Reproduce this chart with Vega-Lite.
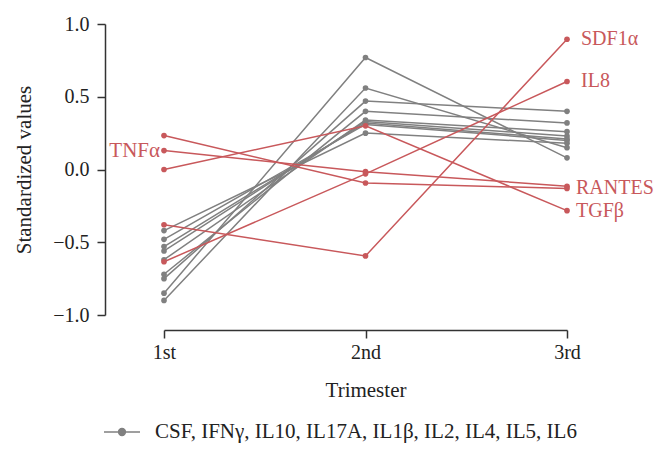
{
  "$schema": "https://vega.github.io/schema/vega-lite/v6.json",
  "width": 403,
  "height": 291,
  "autosize": {"type": "none"},
  "padding": {"left": 164, "top": 24, "right": 104, "bottom": 139},
  "config": {
    "view": {"stroke": null},
    "font": "Liberation Serif",
    "axis": {
      "domainColor": "#333333",
      "domainWidth": 1.5,
      "tickColor": "#333333",
      "tickWidth": 1.5,
      "tickSize": 8,
      "grid": false,
      "labelFont": "Liberation Serif",
      "labelFontSize": 20,
      "labelColor": "#222222",
      "titleFont": "Liberation Serif",
      "titleFontSize": 21,
      "titleFontWeight": "normal",
      "titleColor": "#222222"
    }
  },
  "datasets": {
    "series": [
      {"cytokine": "CSF", "group": "CSF, IFNγ, IL10, IL17A, IL1β, IL2, IL4, IL5, IL6", "trimester": "1st", "value": -0.85},
      {"cytokine": "CSF", "group": "CSF, IFNγ, IL10, IL17A, IL1β, IL2, IL4, IL5, IL6", "trimester": "2nd", "value": 0.77},
      {"cytokine": "CSF", "group": "CSF, IFNγ, IL10, IL17A, IL1β, IL2, IL4, IL5, IL6", "trimester": "3rd", "value": 0.08},
      {"cytokine": "IFNγ", "group": "CSF, IFNγ, IL10, IL17A, IL1β, IL2, IL4, IL5, IL6", "trimester": "1st", "value": -0.9},
      {"cytokine": "IFNγ", "group": "CSF, IFNγ, IL10, IL17A, IL1β, IL2, IL4, IL5, IL6", "trimester": "2nd", "value": 0.56},
      {"cytokine": "IFNγ", "group": "CSF, IFNγ, IL10, IL17A, IL1β, IL2, IL4, IL5, IL6", "trimester": "3rd", "value": 0.15},
      {"cytokine": "IL10", "group": "CSF, IFNγ, IL10, IL17A, IL1β, IL2, IL4, IL5, IL6", "trimester": "1st", "value": -0.75},
      {"cytokine": "IL10", "group": "CSF, IFNγ, IL10, IL17A, IL1β, IL2, IL4, IL5, IL6", "trimester": "2nd", "value": 0.47},
      {"cytokine": "IL10", "group": "CSF, IFNγ, IL10, IL17A, IL1β, IL2, IL4, IL5, IL6", "trimester": "3rd", "value": 0.4},
      {"cytokine": "IL17A", "group": "CSF, IFNγ, IL10, IL17A, IL1β, IL2, IL4, IL5, IL6", "trimester": "1st", "value": -0.72},
      {"cytokine": "IL17A", "group": "CSF, IFNγ, IL10, IL17A, IL1β, IL2, IL4, IL5, IL6", "trimester": "2nd", "value": 0.4},
      {"cytokine": "IL17A", "group": "CSF, IFNγ, IL10, IL17A, IL1β, IL2, IL4, IL5, IL6", "trimester": "3rd", "value": 0.32},
      {"cytokine": "IL1β", "group": "CSF, IFNγ, IL10, IL17A, IL1β, IL2, IL4, IL5, IL6", "trimester": "1st", "value": -0.62},
      {"cytokine": "IL1β", "group": "CSF, IFNγ, IL10, IL17A, IL1β, IL2, IL4, IL5, IL6", "trimester": "2nd", "value": 0.34},
      {"cytokine": "IL1β", "group": "CSF, IFNγ, IL10, IL17A, IL1β, IL2, IL4, IL5, IL6", "trimester": "3rd", "value": 0.26},
      {"cytokine": "IL2", "group": "CSF, IFNγ, IL10, IL17A, IL1β, IL2, IL4, IL5, IL6", "trimester": "1st", "value": -0.56},
      {"cytokine": "IL2", "group": "CSF, IFNγ, IL10, IL17A, IL1β, IL2, IL4, IL5, IL6", "trimester": "2nd", "value": 0.33},
      {"cytokine": "IL2", "group": "CSF, IFNγ, IL10, IL17A, IL1β, IL2, IL4, IL5, IL6", "trimester": "3rd", "value": 0.23},
      {"cytokine": "IL4", "group": "CSF, IFNγ, IL10, IL17A, IL1β, IL2, IL4, IL5, IL6", "trimester": "1st", "value": -0.53},
      {"cytokine": "IL4", "group": "CSF, IFNγ, IL10, IL17A, IL1β, IL2, IL4, IL5, IL6", "trimester": "2nd", "value": 0.32},
      {"cytokine": "IL4", "group": "CSF, IFNγ, IL10, IL17A, IL1β, IL2, IL4, IL5, IL6", "trimester": "3rd", "value": 0.21},
      {"cytokine": "IL5", "group": "CSF, IFNγ, IL10, IL17A, IL1β, IL2, IL4, IL5, IL6", "trimester": "1st", "value": -0.48},
      {"cytokine": "IL5", "group": "CSF, IFNγ, IL10, IL17A, IL1β, IL2, IL4, IL5, IL6", "trimester": "2nd", "value": 0.31},
      {"cytokine": "IL5", "group": "CSF, IFNγ, IL10, IL17A, IL1β, IL2, IL4, IL5, IL6", "trimester": "3rd", "value": 0.2},
      {"cytokine": "IL6", "group": "CSF, IFNγ, IL10, IL17A, IL1β, IL2, IL4, IL5, IL6", "trimester": "1st", "value": -0.42},
      {"cytokine": "IL6", "group": "CSF, IFNγ, IL10, IL17A, IL1β, IL2, IL4, IL5, IL6", "trimester": "2nd", "value": 0.25},
      {"cytokine": "IL6", "group": "CSF, IFNγ, IL10, IL17A, IL1β, IL2, IL4, IL5, IL6", "trimester": "3rd", "value": 0.18},
      {"cytokine": "TNFα", "group": "red", "trimester": "1st", "value": 0.13},
      {"cytokine": "TNFα", "group": "red", "trimester": "2nd", "value": -0.015},
      {"cytokine": "TNFα", "group": "red", "trimester": "3rd", "value": -0.115},
      {"cytokine": "RANTES", "group": "red", "trimester": "1st", "value": 0.233},
      {"cytokine": "RANTES", "group": "red", "trimester": "2nd", "value": -0.093},
      {"cytokine": "RANTES", "group": "red", "trimester": "3rd", "value": -0.13},
      {"cytokine": "TGFβ", "group": "red", "trimester": "1st", "value": 0.0},
      {"cytokine": "TGFβ", "group": "red", "trimester": "2nd", "value": 0.3},
      {"cytokine": "TGFβ", "group": "red", "trimester": "3rd", "value": -0.283},
      {"cytokine": "SDF1α", "group": "red", "trimester": "1st", "value": -0.38},
      {"cytokine": "SDF1α", "group": "red", "trimester": "2nd", "value": -0.594},
      {"cytokine": "SDF1α", "group": "red", "trimester": "3rd", "value": 0.895},
      {"cytokine": "IL8", "group": "red", "trimester": "1st", "value": -0.634},
      {"cytokine": "IL8", "group": "red", "trimester": "2nd", "value": -0.03},
      {"cytokine": "IL8", "group": "red", "trimester": "3rd", "value": 0.605}
    ]
  },
  "data": {"name": "series"},
  "encoding": {
    "x": {
      "field": "trimester",
      "type": "ordinal",
      "scale": {"type": "point", "padding": 0, "domain": ["1st", "2nd", "3rd"]},
      "axis": {"title": "Trimester", "labelAngle": 0, "offset": 15, "labelPadding": 4, "titlePadding": 17}
    },
    "y": {
      "field": "value",
      "type": "quantitative",
      "scale": {"domain": [-1, 1], "nice": false, "zero": false},
      "axis": {"title": "Standardized values", "values": [-1, -0.5, 0, 0.5, 1], "format": ".1f", "offset": 59, "labelPadding": 8, "titlePadding": 18}
    },
    "color": {
      "field": "group",
      "type": "nominal",
      "scale": {
        "domain": ["CSF, IFNγ, IL10, IL17A, IL1β, IL2, IL4, IL5, IL6", "red"],
        "range": ["#808080", "#c8585b"]
      },
      "legend": {
        "title": null,
        "values": ["CSF, IFNγ, IL10, IL17A, IL1β, IL2, IL4, IL5, IL6"],
        "orient": "none",
        "legendX": -61,
        "legendY": 389,
        "symbolType": "M-1,0L1,0M-0.19,0A0.19,0.19 0 1,1 0.19,0A0.19,0.19 0 1,1 -0.19,0Z",
        "symbolSize": 1296,
        "symbolStrokeWidth": 1.5,
        "symbolFillColor": "#808080",
        "symbolStrokeColor": "#808080",
        "labelFont": "Liberation Serif",
        "labelFontSize": 21,
        "labelColor": "#222222",
        "labelOffset": 14,
        "labelLimit": 0
      }
    }
  },
  "layer": [
    {
      "mark": {"type": "line", "strokeWidth": 1.5},
      "encoding": {"detail": {"field": "cytokine"}}
    },
    {
      "mark": {"type": "point", "filled": true, "size": 32, "opacity": 1}
    },
    {
      "transform": [{"filter": "datum.trimester === '3rd' && (datum.cytokine === 'SDF1α' || datum.cytokine === 'IL8')"}],
      "mark": {"type": "text", "align": "left", "baseline": "middle", "dx": 14, "fontSize": 20, "font": "Liberation Serif"},
      "encoding": {"text": {"field": "cytokine"}}
    },
    {
      "transform": [{"filter": "datum.trimester === '3rd' && (datum.cytokine === 'RANTES' || datum.cytokine === 'TGFβ')"}],
      "mark": {"type": "text", "align": "left", "baseline": "middle", "dx": 9, "fontSize": 20, "font": "Liberation Serif"},
      "encoding": {"text": {"field": "cytokine"}}
    },
    {
      "transform": [{"filter": "datum.trimester === '1st' && datum.cytokine === 'TNFα'"}],
      "mark": {"type": "text", "align": "right", "baseline": "middle", "dx": -4, "fontSize": 21, "font": "Liberation Serif"},
      "encoding": {"text": {"field": "cytokine"}}
    }
  ]
}
